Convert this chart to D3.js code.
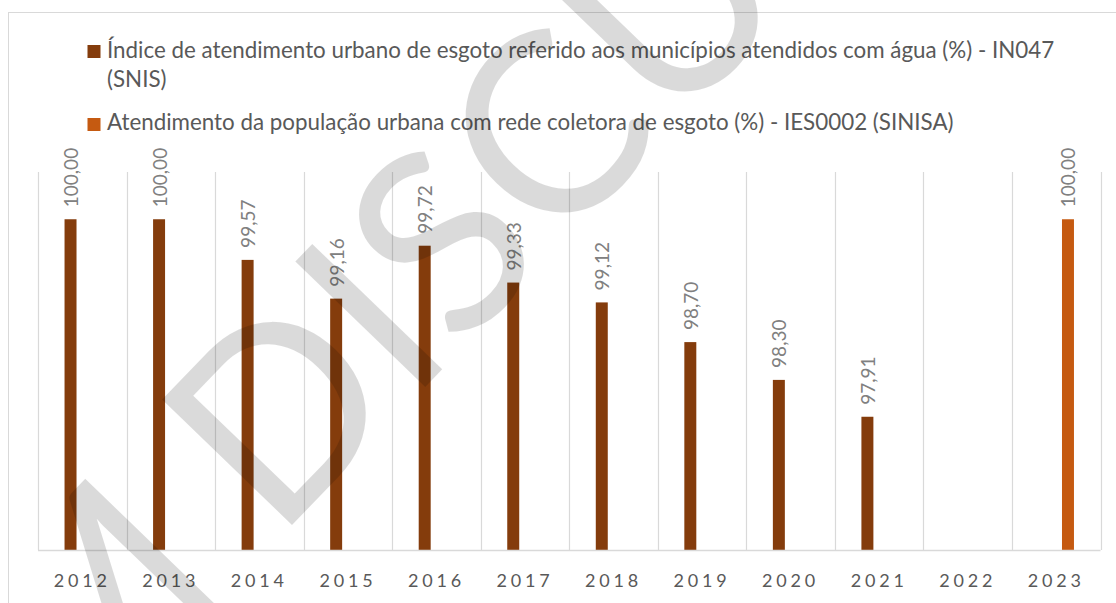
<html>
<head>
  <meta charset="utf-8">
  <title>Atendimento urbano de esgoto</title>
  <script src="https://d3js.org/d3.v7.min.js"></script>
  <style>
    body { margin: 0; background: #fff; }
    text { font-family: Lato, "Open Sans", sans-serif; }
  </style>
</head>
<body>
  <div id="chart"></div>
  <script>

    // data
    var years = ["2012", "2013", "2014", "2015", "2016", "2017", "2018", "2019", "2020", "2021", "2022", "2023"];
    var snisValues = [100.00, 100.00, 99.57, 99.16, 99.72, 99.33, 99.12, 98.70, 98.30, 97.91, null, null];
    var sinisaValues = [null, null, null, null, null, null, null, null, null, null, null, 100.00];
    var seriesNames = [
      "Índice de atendimento urbano de esgoto referido aos municípios atendidos com água (%) - IN047",
      "Atendimento da população urbana com rede coletora de esgoto (%) - IES0002 (SINISA)"
    ];
    var seriesColors = ["#843c0c", "#c55a11"];
    var yDomain = [96.5, 100.5];

    var width = 1116, height = 603;
    var plot = {left: 38, right: 1100.5, top: 172, bottom: 550};

    var svg = d3.select("#chart").append("svg")
        .attr("width", width)
        .attr("height", height);

    // chart area border
    svg.append("rect")
        .attr("x", 8.5).attr("y", 12.5)
        .attr("width", 1200).attr("height", 700)
        .attr("fill", "none")
        .attr("stroke", "#d9d9d9");

    var x = d3.scaleBand().domain(years).range([plot.left, plot.right]).padding(0);
    var xSub = d3.scaleBand().domain([0, 1]).range([0, x.bandwidth()])
        .paddingInner(0.49).paddingOuter(1.13);
    var y = d3.scaleLinear().domain(yDomain).range([plot.bottom, plot.top]);

    // vertical gridlines at category boundaries
    var bounds = years.map(function(d) { return x(d); }).concat([x(years[years.length - 1]) + x.bandwidth()]);
    svg.append("g").selectAll("line")
        .data(bounds)
        .enter().append("line")
        .attr("x1", function(d) { return Math.round(d) + 0.5; })
        .attr("x2", function(d) { return Math.round(d) + 0.5; })
        .attr("y1", plot.top)
        .attr("y2", plot.bottom)
        .attr("stroke", "#d9d9d9")
        .attr("stroke-width", 1.2);

    // bars
    var series = [snisValues, sinisaValues];
    series.forEach(function(vals, si) {
      var pts = years.map(function(yr, i) { return {year: yr, value: vals[i]}; })
          .filter(function(d) { return d.value != null; });

      svg.append("g").selectAll("rect")
          .data(pts)
          .enter().append("rect")
          .attr("x", function(d) { return x(d.year) + xSub(si); })
          .attr("y", function(d) { return y(d.value); })
          .attr("width", xSub.bandwidth())
          .attr("height", function(d) { return plot.bottom - y(d.value); })
          .attr("fill", seriesColors[si]);

      svg.append("g").selectAll("text")
          .data(pts)
          .enter().append("text")
          .attr("transform", function(d) {
            var cx = x(d.year) + xSub(si) + xSub.bandwidth() / 2;
            return "translate(" + cx + "," + (y(d.value) - 12) + ") rotate(-90)";
          })
          .attr("dominant-baseline", "central")
          .attr("font-size", 19)
          .attr("fill", "#808080")
          .text(function(d) { return d3.format(".2f")(d.value).replace(".", ","); });
    });

    // x axis line
    svg.append("line")
        .attr("x1", plot.left).attr("x2", plot.right)
        .attr("y1", plot.bottom + 0.5).attr("y2", plot.bottom + 0.5)
        .attr("stroke", "#d9d9d9")
        .attr("stroke-width", 1.5);

    var xAxis = svg.append("g")
        .attr("transform", "translate(0," + plot.bottom + ")")
        .call(d3.axisBottom(x).tickSize(0).tickPadding(0));
    xAxis.select(".domain").remove();
    xAxis.selectAll("text")
        .attr("dy", null)
        .attr("y", 36.7)
        .attr("font-family", "Lato, sans-serif")
        .attr("font-size", 18)
        .attr("letter-spacing", "3.8px")
        .attr("fill", "#595959");

    // legend
    var legend = svg.append("g");
    legend.append("rect").attr("x", 87.5).attr("y", 45).attr("width", 13).attr("height", 13)
        .attr("fill", seriesColors[0]);
    var l1 = legend.append("text").attr("x", 107).attr("y", 58.3)
        .attr("font-size", 20).attr("fill", "#595959").text(seriesNames[0]);
    var fs = 20 * 948 / l1.node().getComputedTextLength();
    l1.attr("font-size", fs);
    legend.append("text").attr("x", 107).attr("y", 86.7)
        .attr("font-size", fs).attr("fill", "#595959").text("(SNIS)");
    legend.append("rect").attr("x", 87.5).attr("y", 118).attr("width", 13).attr("height", 13)
        .attr("fill", seriesColors[1]);
    legend.append("text").attr("x", 107).attr("y", 130)
        .attr("font-size", fs).attr("fill", "#595959").text(seriesNames[1]);

    // watermark
    var wmG = svg.append("g").attr("pointer-events", "none");
    var wm = wmG.append("text")
        .attr("font-size", 252)
        .attr("fill", "#000")
        .attr("fill-opacity", 0.145)
        .text("EM DISCUSSÃO");
    var dStart = wm.node().getStartPositionOfChar(3).x;
    wmG.attr("transform", "translate(290,527) rotate(-46) translate(" + (-(dStart + 20)) + ",0)");

  </script>
</body>
</html>
